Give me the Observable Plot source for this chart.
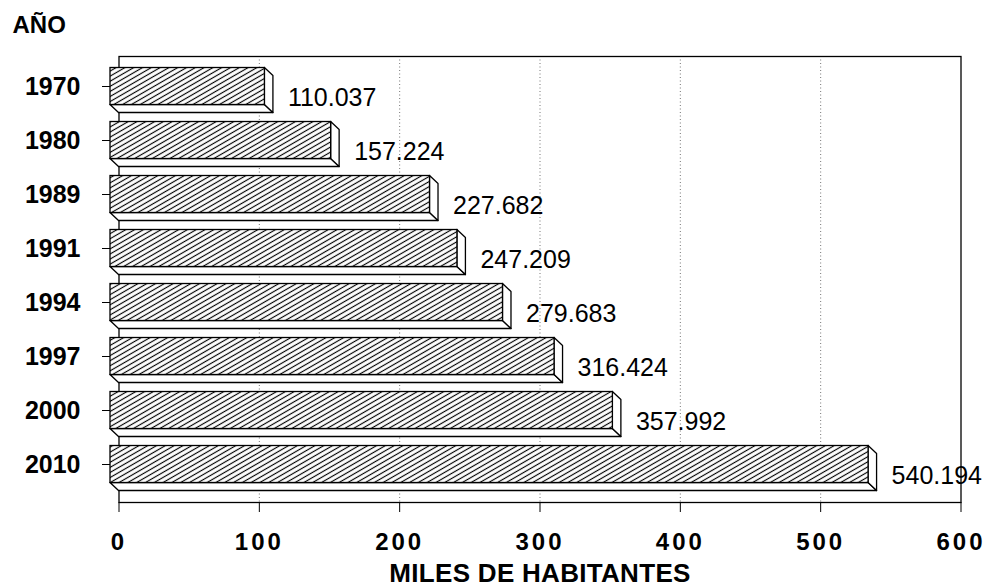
<!DOCTYPE html>
<html>
<head>
<meta charset="utf-8">
<script src="https://cdn.jsdelivr.net/npm/d3@7"></script>
<script src="https://cdn.jsdelivr.net/npm/@observablehq/plot@0.6"></script>
<style>
  html, body { margin: 0; padding: 0; background: #fff; }
  #chart svg { display: block; }
  #chart svg [aria-label="x-axis tick label"] { letter-spacing: 3px; }
  #chart svg [aria-label="x-axis label"] { letter-spacing: 0.3px; }
</style>
</head>
<body>
<div id="chart"></div>
<script>
// ---- data ----
const years = ["1970", "1980", "1989", "1991", "1994", "1997", "2000", "2010"];
const values = [110.037, 157.224, 227.682, 247.209, 279.683, 316.424, 357.992, 540.194];
const xTicks = [0, 100, 200, 300, 400, 500, 600];
const gridTicks = [100, 200, 300, 400, 500];
const yTitle = "AÑO";
const xTitle = "MILES DE HABITANTES";

const data = years.map((year, i) => ({year, value: values[i]}));

// ---- style ----
const FONT = "'Liberation Sans', Arial, Helvetica, sans-serif";
const DX = -8.5, DY = -8;      // oblique offset of the front face (pseudo-3D)
const BAR_H = 37;               // bar thickness in px
const fmt = d3.format(".3f");

function box3d(index, scales, values, dimensions) {
  const y = scales.y;
  const bw = typeof y.bandwidth === "function" ? y.bandwidth() : (scales.scales?.y?.bandwidth ?? 54.85);
  const inset = (bw - BAR_H) / 2;
  const g = d3.create("svg:g");
  const defs = g.append("defs");
  const pat = defs.append("pattern")
    .attr("id", "hatch3d")
    .attr("patternUnits", "userSpaceOnUse")
    .attr("width", 10).attr("height", 4.4)
    .attr("patternTransform", "rotate(-30)");
  pat.append("rect").attr("width", 10).attr("height", 4.4).attr("fill", "white");
  pat.append("line").attr("x1", -1).attr("x2", 11).attr("y1", 2.2).attr("y2", 2.2)
    .attr("stroke", "black").attr("stroke-width", 1.15);

  for (const i of index) {
    const x0 = Math.min(values.x1[i], values.x2[i]);
    const x1 = Math.max(values.x1[i], values.x2[i]);
    const yt = values.y[i] + inset;
    const yb = values.y[i] + bw - inset;
    const pts = a => a.map(p => p.join(",")).join(" ");
    // bottom face
    g.append("polygon")
      .attr("points", pts([[x0 + DX, yb + DY], [x1 + DX, yb + DY], [x1, yb], [x0, yb]]))
      .attr("fill", "white").attr("stroke", "black").attr("stroke-width", 1.3).attr("stroke-linejoin", "round");
    // side face
    g.append("polygon")
      .attr("points", pts([[x1 + DX, yt + DY], [x1, yt], [x1, yb], [x1 + DX, yb + DY]]))
      .attr("fill", "white").attr("stroke", "black").attr("stroke-width", 1.3).attr("stroke-linejoin", "round");
    // front face (hatched)
    g.append("rect")
      .attr("x", x0 + DX).attr("y", yt + DY)
      .attr("width", x1 - x0).attr("height", yb - yt)
      .attr("fill", "url(#hatch3d)").attr("stroke", "black").attr("stroke-width", 1.3);
  }
  return g.node();
}

const chart = Plot.plot({
  width: 992,
  height: 587,
  marginLeft: 118.5,
  marginRight: 31.5,
  marginTop: 56,
  marginBottom: 85,
  style: {fontFamily: FONT, background: "white", color: "black"},
  x: {domain: [0, 600]},
  y: {type: "band", domain: years, range: [63.6, 502.4], padding: 0},
  marks: [
    Plot.gridX(gridTicks, {stroke: "#666", strokeOpacity: 0.9, strokeDasharray: "1,2.5"}),
    Plot.frame({stroke: "black", strokeWidth: 1.3}),
    Plot.barX(data, {x: "value", y: "year", render: box3d}),
    Plot.text(data, {
      x: "value", y: "year", text: d => fmt(d.value),
      textAnchor: "start", dx: 14.5, dy: 3, fontSize: 25, fill: "black"
    }),
    Plot.axisY({
      tickSize: 8, tickPadding: 22, dx: DX, dy: DY,
      fontSize: 25, fontWeight: "bold", label: null
    }),
    Plot.axisX({
      ticks: xTicks, tickSize: 10, tickPadding: 20,
      fontSize: 24, fontWeight: "bold",
      label: xTitle, labelAnchor: "center", labelOffset: 79, labelArrow: "none"
    }),
    Plot.text([yTitle], {
      text: d => d, frameAnchor: "top-left", dx: -106.5, dy: -31.5,
      textAnchor: "start", lineAnchor: "middle", fontSize: 24, fontWeight: "bold", fill: "black"
    })
  ]
});

// slightly larger axis title to match the reference width
const lbl = chart.querySelector('[aria-label="x-axis label"]');
if (lbl) lbl.setAttribute("font-size", 26);

document.getElementById("chart").appendChild(chart);
</script>
</body>
</html>
